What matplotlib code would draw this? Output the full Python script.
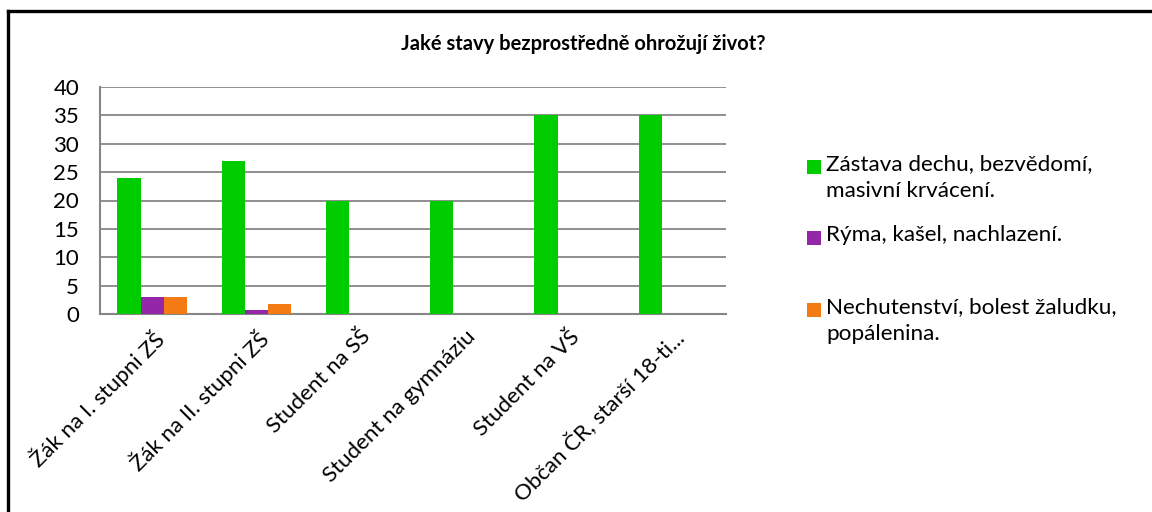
import matplotlib
matplotlib.use("Agg")
import matplotlib.pyplot as plt
import numpy as np
from matplotlib.patches import Rectangle
from matplotlib.lines import Line2D

categories = ["Žák na I. stupni ZŠ", "Žák na II. stupni ZŠ", "Student na SŠ",
              "Student na gymnáziu", "Student na VŠ", "Občan ČR, starší 18-ti..."]
series_names = ["Zástava dechu, bezvědomí,\nmasivní krvácení.",
                "Rýma, kašel, nachlazení.",
                "Nechutenství, bolest žaludku,\npopálenina."]
zastava = [24, 27, 20, 20, 35, 35]
ryma = [3, 0.7, 0, 0, 0, 0]
nechutenstvi = [3, 1.8, 0, 0, 0, 0]
colors = ["#00CC00", "#9327A7", "#F47A14"]
yticks = [0, 5, 10, 15, 20, 25, 30, 35, 40]
title = "Jaké stavy bezprostředně ohrožují život?"

plt.rcParams['font.family'] = ['Lato', 'DejaVu Sans']

W, H = 1152, 512
fig = plt.figure(figsize=(W / 100, H / 100), dpi=100)
ax = fig.add_axes([100 / W, 1 - 314 / H, (725.6 - 100) / W, (314 - 87) / H])

x = np.arange(len(categories))
bw = 0.222
for i, (vals, c) in enumerate(zip([zastava, ryma, nechutenstvi], colors)):
    ax.bar(x + (i - 1) * bw, vals, width=bw, color=c, linewidth=0, zorder=3)

ax.set_xlim(-0.5, len(categories) - 0.5)
ax.set_ylim(0, 40)
ax.set_yticks(yticks)
ax.set_yticklabels([str(v) for v in yticks], fontsize=16)
ax.yaxis.grid(True, color="#868686", linewidth=1.3, zorder=0)
ax.set_axisbelow(True)
for s in ["top", "right"]:
    ax.spines[s].set_visible(False)
for s in ["left", "bottom"]:
    ax.spines[s].set_color("#868686")
    ax.spines[s].set_linewidth(1.5)
ax.tick_params(axis="y", length=0, pad=15)
ax.tick_params(axis="x", length=0, pad=9)
ax.set_xticks(x)
ax.set_xticklabels(categories, rotation=45, ha="right", va="top",
                   rotation_mode="anchor", fontsize=16)

fig.text(583 / W, 1 - 44 / H, title, ha="center", va="center",
         fontsize=14.5, fontweight="bold")

# legend
leg_y = [167, 238, 310]
for name, c, yy in zip(series_names, colors, leg_y):
    fig.add_artist(Rectangle((807 / W, 1 - (yy + 7) / H), 14 / W, 14 / H,
                             transform=fig.transFigure, color=c, linewidth=0))
    fig.text(826 / W, 1 - (yy - 13) / H, name, ha="left", va="top",
             fontsize=16.2, linespacing=1.45)

# outer border (partially cropped)
fig.add_artist(Line2D([8 / W, 8 / W], [0, 1 - 11 / H], transform=fig.transFigure,
                      color="black", linewidth=2.4))
fig.add_artist(Line2D([8 / W, 1], [1 - 11 / H, 1 - 11 / H], transform=fig.transFigure,
                      color="black", linewidth=2.4))

fig.savefig("out.png", dpi=100)
